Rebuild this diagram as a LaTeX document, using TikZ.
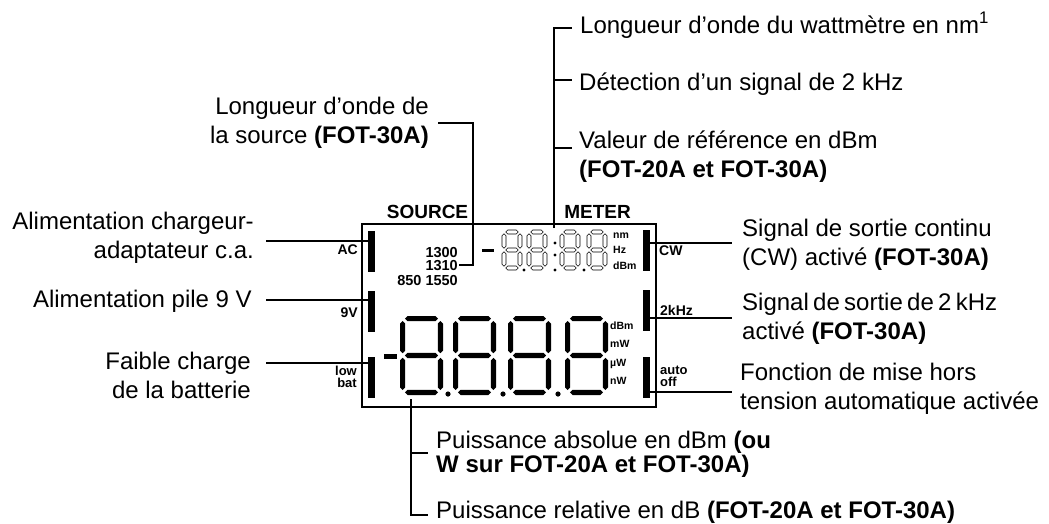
\documentclass[tikz,border=0pt]{standalone}
\usepackage{fontspec}
\setmainfont{Liberation Sans}

% seven-segment helpers: horizontal / vertical segment, full "8"
\newcommand{\hseg}[5]{\path[#5] ({#1},{#3}) -- ({#1+#4},{#3-#4}) -- ({#2-#4},{#3-#4}) -- ({#2},{#3}) -- ({#2-#4},{#3+#4}) -- ({#1+#4},{#3+#4}) -- cycle;}
\newcommand{\vseg}[5]{\path[#5] ({#1},{#2}) -- ({#1+#4},{#2+#4}) -- ({#1+#4},{#3-#4}) -- ({#1},{#3}) -- ({#1-#4},{#3-#4}) -- ({#1-#4},{#2+#4}) -- cycle;}
\newcommand{\segeight}[6]{%
  \pgfmathsetmacro{\dL}{#1+#5}\pgfmathsetmacro{\dR}{#1+#3-#5}%
  \pgfmathsetmacro{\dT}{#2+#5}\pgfmathsetmacro{\dM}{#2+#4/2}\pgfmathsetmacro{\dB}{#2+#4-#5}%
  \pgfmathsetmacro{\dG}{#5*0.9}%
  \hseg{\dL+\dG}{\dR-\dG}{\dT}{#5}{#6}
  \hseg{\dL+\dG}{\dR-\dG}{\dM}{#5}{#6}
  \hseg{\dL+\dG}{\dR-\dG}{\dB}{#5}{#6}
  \vseg{\dL}{\dT+\dG}{\dM-\dG}{#5}{#6}
  \vseg{\dR}{\dT+\dG}{\dM-\dG}{#5}{#6}
  \vseg{\dL}{\dM+\dG}{\dB-\dG}{#5}{#6}
  \vseg{\dR}{\dM+\dG}{\dB-\dG}{#5}{#6}}

\begin{document}
\begin{tikzpicture}[x=1pt, y=-1pt,
    lbl/.style={font=\fontsize{24}{29}\selectfont, inner sep=0pt},
    tag/.style={font=\bfseries\fontsize{14}{11.5}\selectfont, inner sep=0pt},
    tagtwo/.style={font=\bfseries\fontsize{13}{12}\selectfont, inner sep=0pt},
    wl/.style={font=\bfseries\fontsize{14.5}{13}\selectfont, inner sep=0pt},
    unit/.style={font=\bfseries\fontsize{10.5}{12}\selectfont, inner sep=0pt},
    head/.style={font=\bfseries\fontsize{19}{22}\selectfont, inner sep=0pt},
    bar/.style={fill=black, minimum width=7pt, minimum height=41pt, inner sep=0pt},
    wire/.style={line width=1.6pt}
  ]
  \useasboundingbox (0,0) rectangle (1049,523);

  % Display frame and side bars
  \node[draw, line width=2pt, minimum width=294pt, minimum height=183pt, inner sep=0pt] (lcd) at (509,315.5) {};
  \node[bar] (acBar) at (371.5,251.5) {};
  \node[bar] (vBar) at (371.5,311) {};
  \node[bar] (lowBar) at (371.5,377) {};
  \node[bar] (cwBar) at (646,250.5) {};
  \node[bar] (khzBar) at (646,310.5) {};
  \node[bar] (autoBar) at (646,377) {};

  % Headings and tags (multi-line: base = last line)
  \node[head, anchor=base] (srcHead) at (427.5,218) {SOURCE};
  \node[head, anchor=base] (mtrHead) at (597.5,218) {METER};
  \node[tag, anchor=base east] (acTag) at (358,254) {AC};
  \node[tag, anchor=base east] (vTag) at (358,317) {9V};
  \node[tagtwo, anchor=base east, align=right] (lowTag) at (357,387) {low\\bat};
  \node[tag, anchor=base west] (cwTag) at (659,255) {CW};
  \node[tag, anchor=base west] (khzTag) at (660,315) {2kHz};
  \node[tagtwo, anchor=base west, align=left] (autoTag) at (660,386) {auto\\off};

  % Source wavelengths
  \node[wl, anchor=base east] (w1300) at (458,257) {1300};
  \node[wl, anchor=base east] (w1310) at (458,270) {1310};
  \node[wl, anchor=base east] (w1550) at (458,285) {850 1550};

  % Meter display (small)
  \fill (482,249) rectangle (494,252);
  \foreach \xd in {502,527,560,587} {
    \segeight{\xd}{230}{20}{40}{2}{draw, line width=0.6pt}
  }
  \foreach \xd/\yd in {524/270, 555/270, 584/270, 555/243, 555/255} {
    \fill (\xd,\yd) circle[radius=1.6pt];
  }
  \foreach \u/\y in {nm/238, Hz/253, dBm/269} {
    \node[unit, anchor=base west] (s\u) at (613,\y) {\u};
  }

  % Power display (large)
  \fill (384,354) rectangle (397,358.5);
  \foreach \xd in {400,453,508,565} {
    \segeight{\xd}{316}{43}{79}{2.6}{fill=black}
  }
  \foreach \xd in {448,503,558} {
    \fill (\xd,394) circle[radius=2.6pt];
  }
  \foreach \u/\i/\y in {dBm/1/329, mW/2/347, µW/3/366, nW/4/384} {
    \node[unit, anchor=base west] (bu\i) at (610,\y) {\u};
  }

  % Labels
  \node[lbl, anchor=base east, align=right] (chgLbl) at (254,258) {Alimentation chargeur-\\adaptateur c.a.};
  \node[lbl, anchor=base east] (pileLbl) at (252,307) {Alimentation pile 9 V};
  \node[lbl, anchor=base east, align=right] (lowLbl) at (251,398) {Faible charge\\de la batterie};
  \node[lbl, anchor=base east, align=right] (srcLbl) at (429,143) {Longueur d’onde de\\la source \textbf{(FOT-30A)}};
  \node[lbl, anchor=base west] (wlLbl) at (580,33) {Longueur d’onde du wattmètre en nm\textsuperscript{1}};
  \node[lbl, anchor=base west] (detLbl) at (579,90) {Détection d’un signal de 2 kHz};
  \node[lbl, anchor=base west, align=left] (refLbl) at (579,177) {Valeur de référence en dBm\\\textbf{(FOT-20A et FOT-30A)}};
  \node[lbl, anchor=base west, align=left] (cwLbl) at (742,265) {Signal de sortie continu\\(CW) activé \textbf{(FOT-30A)}};
  \node[lbl, anchor=base west, align=left] (khzLbl) at (742,339) {{\spaceskip=4.3pt plus 1pt Signal de sortie de 2 kHz}\\activé \textbf{(FOT-30A)}};
  \node[lbl, anchor=base west, align=left] (autoLbl) at (740,409) {Fonction de mise hors\\tension automatique activée};
  \node[lbl, anchor=base west, align=left, font=\fontsize{24}{22}\selectfont] (absLbl) at (436,472) {Puissance absolue en dBm \textbf{(ou}\\\textbf{W sur FOT-20A et FOT-30A)}};
  \node[lbl, anchor=base west] (relLbl) at (436,518) {Puissance relative en dB \textbf{(FOT-20A et FOT-30A)}};

  % Connector ends
  \coordinate (acEnd) at (266,241);
  \coordinate (vEnd) at (266,300);
  \coordinate (lowEnd) at (266,363);
  \coordinate (cwEnd) at (732,243);
  \coordinate (khzEnd) at (732,318);
  \coordinate (autoEnd) at (732,392);
  \coordinate (srcEnd) at (438,123);
  \coordinate (srcBend) at (473,123);
  \coordinate (smallDig) at (554,228);
  \coordinate (wlEnd) at (572,28);
  \coordinate (detEnd) at (572,80);
  \coordinate (refEnd) at (572,148);
  \coordinate (bigDig) at (411,399);
  \coordinate (absEnd) at (428,453);
  \coordinate (relEnd) at (428,515);

  % Connectors
  \draw[wire] (acEnd) -- (acEnd -| acBar.west);
  \draw[wire] (vEnd) -- (vEnd -| vBar.west);
  \draw[wire] (lowEnd) -- (lowEnd -| lowBar.west);
  \draw[wire] (cwBar.east |- cwEnd) -- (cwEnd);
  \draw[wire] (khzBar.east |- khzEnd) -- (khzEnd);
  \draw[wire] (autoBar.east |- autoEnd) -- (autoEnd);
  \draw[wire] ([xshift=1pt]w1310.east) -| (srcBend) -- (srcEnd);
  \draw[wire] (smallDig) |- (wlEnd);
  \draw[wire] (smallDig |- detEnd) -- (detEnd);
  \draw[wire] (smallDig |- refEnd) -- (refEnd);
  \draw[wire] (bigDig) |- (relEnd);
  \draw[wire] (bigDig |- absEnd) -- (absEnd);
\end{tikzpicture}
\end{document}
